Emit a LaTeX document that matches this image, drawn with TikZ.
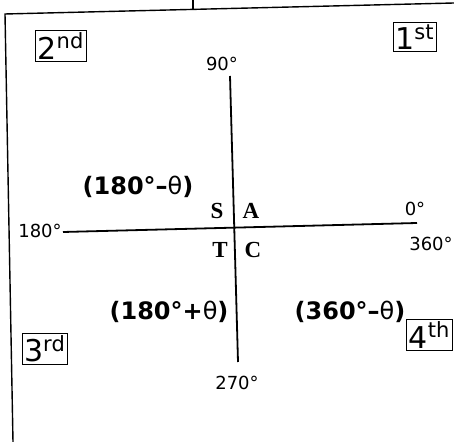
\documentclass[tikz,border=0pt]{standalone}
\usepackage{fontspec}
\setmainfont{DejaVu Sans}
\newfontfamily\signfont{Liberation Serif}
\tikzset{
    quadbox/.style = {
        draw, line width=0.5pt,
        inner sep=1pt,
        font=\fontsize{15}{15}\selectfont
    },
    anglelabel/.style = {
        font=\fontsize{9}{9}\selectfont
    },
    formula/.style = {
        font=\fontsize{12}{12}\selectfont\bfseries
    },
    signlabel/.style = {
        font=\fontsize{11.5}{11.5}\signfont\bfseries
    },
    axis/.style = {
        line width=0.9pt
    },
    frame/.style = {
        line width=0.7pt
    }
}

\begin{document}
\begin{tikzpicture}[x=0.5pt, y=-0.5pt]

\useasboundingbox (0,0) rectangle (454,442);
\clip (0,0) rectangle (454,442);

% frame of the page
\coordinate (topL) at (5,14);
\coordinate (topR) at (454,3);
\coordinate (botL) at (13,442);
\coordinate (tickT) at (193,0);
\coordinate (tickB) at (193,9);
\draw [frame] (botL) -- (topL) -- (topR);
\draw [frame] (tickT) -- (tickB);

% axes
\coordinate (north) at (230,76);
\coordinate (south) at (238,362);
\coordinate (west) at (63,232);
\coordinate (east) at (417,223);
\draw [axis] (north) -- (south);
\draw [axis] (west) -- (east);

% quadrant numbers
\node (q2) [quadbox] at (61,46) {2\textsuperscript{nd}};
\node (q1) [quadbox] at (415,37) {1\textsuperscript{st}};
\node (q3) [quadbox] at (45,349) {3\textsuperscript{rd}};
\node (q4) [quadbox, anchor=east] at (453,335) {4\textsuperscript{th}};

% angles
\node (a90) [anglelabel] at (222,64) {90°};
\node (a180) [anglelabel] at (40,231) {180°};
\node (a0) [anglelabel] at (415,209) {0°};
\node (a360) [anglelabel] at (431,244) {360°};
\node (a270) [anglelabel] at (237,383) {270°};

% ASTC
\node (sS) [signlabel] at (217,211) {S};
\node (sA) [signlabel] at (251,211) {A};
\node (sT) [signlabel] at (220,250) {T};
\node (sC) [signlabel] at (253,250) {C};

% formulas
\node (f2) [formula] at (138,187) {(180°–\textmd{θ})};
\node (f3) [formula] at (169,312) {(180°+\textmd{θ})};
\node (f4) [formula] at (350,312) {(360°–\textmd{θ})};

\end{tikzpicture}
\end{document}
